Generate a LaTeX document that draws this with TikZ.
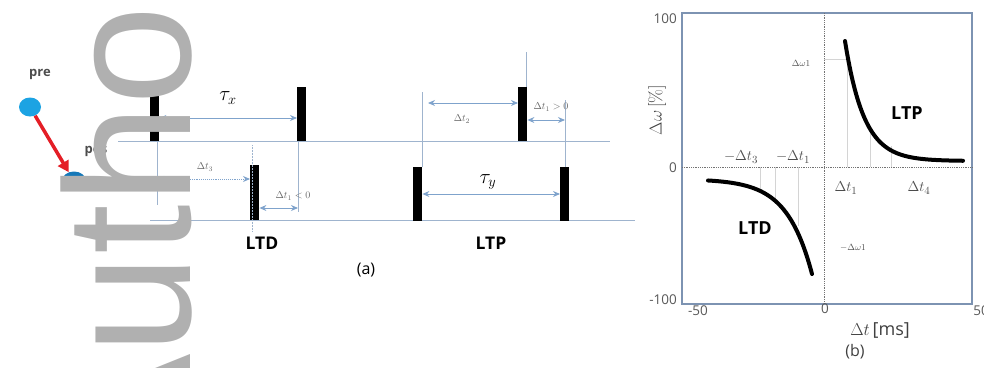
\documentclass[tikz,border=0pt]{standalone}
\usepackage{fontspec}
\setsansfont{Open Sans}
\newfontfamily\wmfont{Liberation Sans}
\usetikzlibrary{arrows.meta,shapes.geometric}
\definecolor{dimblue}{HTML}{7FA3CC}
\definecolor{guide}{HTML}{9FB4CE}
\definecolor{preblue}{HTML}{1CA3E3}
\definecolor{posblue}{HTML}{1578B8}
\definecolor{arrred}{HTML}{E41E26}
\definecolor{framec}{HTML}{7D93B2}
\definecolor{wmark}{HTML}{B0B0B0}
\definecolor{faint}{HTML}{D4D4D4}
\begin{document}
\begin{tikzpicture}[x=1pt,y=-1pt,
  spike/.style={fill=black,inner sep=0pt,minimum width=9pt,minimum height=54pt,anchor=north west},
  dim/.style={draw=dimblue,line width=0.9pt,{Stealth[length=7pt,width=6pt]}-{Stealth[length=7pt,width=6pt]}},
  guideline/.style={draw=guide,line width=0.8pt},
  small/.style={font=\fontsize{10}{12}\selectfont,text=black!60,inner sep=1pt},
  biglab/.style={font=\fontsize{20}{22}\selectfont,inner sep=1pt},
  lab/.style={font=\sffamily\bfseries\fontsize{17.5}{19}\selectfont,inner sep=1pt},
  plab/.style={font=\sffamily\fontsize{16}{18}\selectfont,inner sep=1pt},
  tick/.style={font=\sffamily\fontsize{13.5}{15}\selectfont,text=black!65,inner sep=1pt},
  mlab/.style={font=\fontsize{15}{17}\selectfont,text=black!70,inner sep=1pt},
  tiny/.style={font=\fontsize{9}{11}\selectfont,text=black!70,inner sep=1pt},
  curve/.style={line width=4pt,line cap=round},
  zeroaxis/.style={draw=black!55,densely dotted,line width=0.8pt},
  faintline/.style={draw=faint,line width=0.7pt}]
\useasboundingbox (0,0) rectangle (984,367);

% ---------- neurons ----------
\node[ellipse,fill=preblue,minimum width=22pt,minimum height=19pt,inner sep=0pt] (pre) at (30,107) {};
\node[ellipse,fill=posblue,minimum width=24pt,minimum height=19pt,inner sep=0pt] (pos) at (74,181) {};
\node[font=\sffamily\bfseries\fontsize{13}{15}\selectfont,text=black!70] (prel) at (40,74) {pre};
\node[font=\sffamily\bfseries\fontsize{13}{15}\selectfont,text=black!70] (posl) at (96,151) {pos};
\draw[arrred,line width=3.5pt,-{Triangle[length=11pt,width=12pt]}] (pre) -- (pos);

% ---------- panel (a) baselines ----------
\coordinate (t1) at (118,141); \coordinate (t2) at (610,141);
\coordinate (b1) at (150,220); \coordinate (b2) at (635,220);
\draw[guideline] (t1) -- (t2);
\draw[guideline] (b1) -- (b2);

% spikes
\node[spike] (s1) at (150,87) {};
\node[spike] (s2) at (297,87) {};
\node[spike,minimum height=55pt] (s3) at (250,165) {};
\node[spike] (s4) at (413,167) {};
\node[spike] (s5) at (518,87) {};
\node[spike] (s6) at (560,167) {};

% level helpers
\coordinate (yA) at (0,118);
\coordinate (yB) at (0,179);
\coordinate (yC) at (0,208);
\coordinate (yD) at (0,103);
\coordinate (yE) at (0,120);
\coordinate (yF) at (0,194);
\coordinate (v1) at (157,205);
\coordinate (v2) at (298,212);
\coordinate (v3a) at (252,145); \coordinate (v3b) at (252,232);
\coordinate (v4) at (422,92);
\coordinate (v5) at (526,52);
\coordinate (v6) at (565,100);

% vertical guides
\draw[guideline,line width=0.6pt] (s1.south -| v1) -- (v1);
\draw[guideline,line width=0.6pt] (s2.south -| v2) -- (v2);
\draw[guideline,line width=0.5pt,densely dotted] (v3a) -- (v3b);
\draw[guideline,line width=0.6pt] (s4.north -| v4) -- (v4);
\draw[guideline,line width=0.6pt] (s5.north -| v5) -- (v5);
\draw[guideline,line width=0.6pt] (s6.north -| v6) -- (v6);

% dimension arrows
\coordinate (d2s) at (428,103);
\draw[dim] (s1.east |- yA) -- (s2.west |- yA);
\draw[dim,densely dotted] (v1 |- yB) -- (s3.west |- yB);
\draw[dim] (s3.east |- yC) -- (v2 |- yC);
\draw[dim] (d2s) -- (s5.west |- yD);
\draw[dim] (s5.east |- yE) -- (v6 |- yE);
\draw[dim] (s4.east |- yF) -- (s6.west |- yF);

% labels (a)
\node[biglab] (taux) at (228,98) {$\tau_x$};
\node[small] (dt3) at (205,167) {$\Delta t_3$};
\node[small] (dt1n) at (293,196) {$\Delta t_1 < 0$};
\node[small] (dt2) at (462,119) {$\Delta t_2$};
\node[small] (dt1p) at (551,107) {$\Delta t_1 > 0$};
\node[biglab] (tauy) at (488,182) {$\tau_y$};
\node[lab] (ltda) at (262,243) {LTD};
\node[lab] (ltpa) at (491,243) {LTP};
\node[plab] (pa) at (366,270) {(a)};

% ---------- panel (b) ----------
\draw[framec,line width=1.3pt] (682,13) rectangle (972,304);
\draw[zeroaxis] (682,167) -- (972,167);
\draw[zeroaxis] (824,13) -- (824,304);

% faint guides
\draw[faintline] (824,59) -- (847,59) -- (847,167);
\draw[faintline] (870,128) -- (870,167);
\draw[faintline] (891,146) -- (891,167);
\draw[faintline] (760,167) -- (760,192);
\draw[faintline] (775,167) -- (775,200);
\draw[faintline] (798,167) -- (798,226);

% curves
\draw[curve] plot[domain=845:963,samples=80,smooth] (\x,{161-120*exp(-(\x-845)/19)});
\draw[curve] plot[domain=708:812,samples=80,smooth] (\x,{179+95*exp((\x-812)/25)});

% tick labels
\node[tick,anchor=east] (y100) at (678,19) {100};
\node[tick,anchor=east] (y0) at (678,168) {0};
\node[tick,anchor=east] (ym100) at (678,300) {-100};
\node[tick] (xm50) at (698,311) {-50};
\node[tick] (x0) at (825,309) {0};
\node[tick] (x50) at (981,311) {50};

% curve labels
\node[mlab] (mdt3) at (741,157) {$-\Delta t_3$};
\node[mlab] (mdt1) at (793,157) {$-\Delta t_1$};
\node[mlab] (pdt1) at (846,188) {$\Delta t_1$};
\node[mlab] (pdt4) at (919,188) {$\Delta t_4$};
\node[tiny] (dw1) at (801,63) {$\Delta\omega 1$};
\node[tiny] (mdw1) at (853,248) {$-\Delta\omega 1$};
\node[font=\sffamily\bfseries\fontsize{18}{20}\selectfont] (ltpb) at (907,113) {LTP};
\node[font=\sffamily\bfseries\fontsize{18}{20}\selectfont] (ltdb) at (755,228) {LTD};

\node[rotate=90,font=\fontsize{18}{20}\selectfont,text=black!75] (ylab) at (657,110) {$\Delta\omega\,$[\%]};
\node[font=\fontsize{18}{20}\selectfont,text=black!75] (xlab) at (880,330) {$\Delta t\,$\textsf{[ms]}};
\node[plab,text=black!75] (pb) at (855,352) {(b)};

% ---------- watermark ----------
\begin{scope}
\clip (0,0) rectangle (984,367);
\node[rotate=90,anchor=base east,inner sep=0pt,text=wmark,font=\wmfont\fontsize{179}{179}\selectfont] (wm) at (190,5.5) {Autho};
\end{scope}
\end{tikzpicture}
\end{document}
